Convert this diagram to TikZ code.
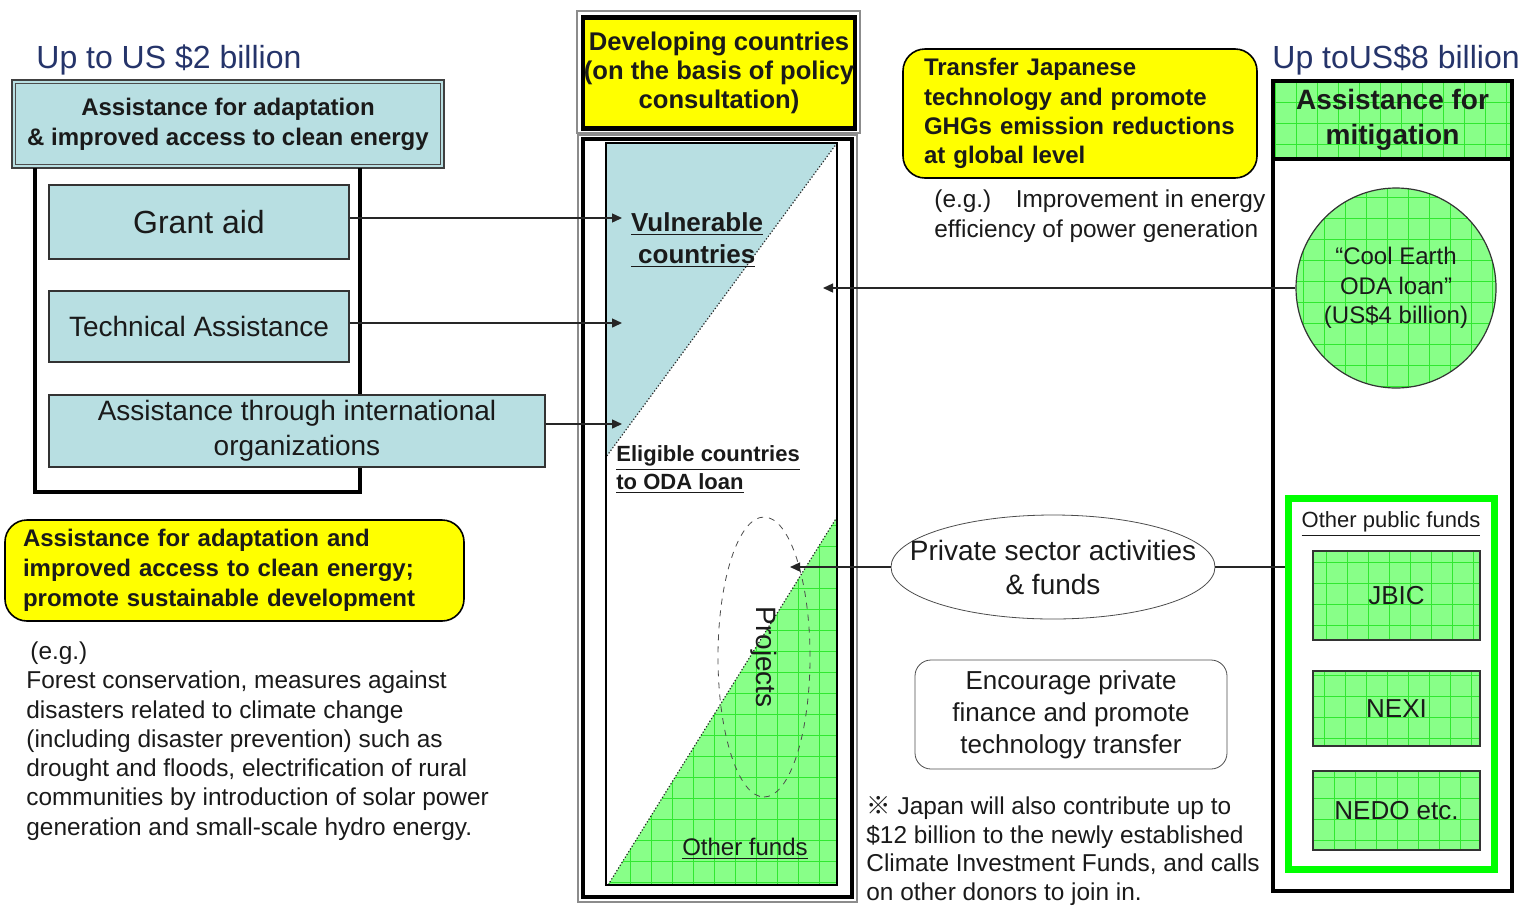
\documentclass[tikz,border=0pt]{standalone}
\usepackage{fontspec}
\setmainfont{Liberation Sans}
\newfontfamily\cjkfont{Noto Sans CJK JP}
\usetikzlibrary{arrows.meta,shapes.geometric}

\definecolor{aqua}{HTML}{B8DFE2}
\definecolor{leaf}{HTML}{88FF88}
\definecolor{leafline}{HTML}{30E830}
\definecolor{lime}{HTML}{00FF00}
\definecolor{sun}{HTML}{FFFF00}
\definecolor{ink}{HTML}{1A1A1A}
\definecolor{navy}{HTML}{25346A}
\newcommand{\fsz}[2]{\fontsize{#1}{#2}\selectfont}

\tikzset{
  every node/.style={inner sep=0pt, text=ink},
  leafgrid/.style={path picture={\draw[leafline,line width=0.3pt]
      (path picture bounding box.south west) grid[step=10.5pt] (path picture bounding box.north east);}},
  aquabox/.style={draw=black!80, fill=aqua, line width=0.7pt, align=center},
  leafbox/.style={draw=black!80, fill=leaf, leafgrid, line width=0.7pt, align=center},
  sunbox/.style={draw=black, fill=sun, line width=0.8pt, rounded corners=11pt, align=left},
  frame/.style={line width=1.6pt},
  slant/.style={black!85, line width=0.6pt, densely dotted},
  flow/.style={-{Triangle[length=5pt,width=4.5pt]}, black!85, line width=0.7pt},
  title/.style={anchor=west, text=navy, font=\fsz{16}{18}},
}

\begin{document}
\begin{tikzpicture}[x=0.5pt, y=-0.5pt]
  \useasboundingbox (0,0) rectangle (1524,906);
  % left column: adaptation
  \node[title] (ltitle) at (36,60) {Up to US \$2 billion};
  \node[aquabox, draw=black!75, line width=1.3pt, minimum width=216pt, minimum height=44pt, font=\bfseries\fsz{12}{15}] (lhead) at (228,124) {Assistance for adaptation\\\& improved access to clean energy};
  \draw[black!70, line width=0.4pt] ([shift={(2.5pt,-2.5pt)}]lhead.north west) rectangle ([shift={(-2.5pt,2.5pt)}]lhead.south east);
  \draw[frame] (35,168) -- (35,492) -- (360,492) -- (360,168);
  \node[aquabox, minimum width=150pt, minimum height=37pt, font=\fsz{16}{19}] (grant) at (199,222) {Grant aid};
  \node[aquabox, minimum width=150pt, minimum height=35.5pt, font=\fsz{14}{17}] (tech) at (199,326.5) {Technical Assistance};
  \node[aquabox, minimum width=248pt, minimum height=36pt, font=\fsz{14}{17.5}] (intl) at (297,431) {Assistance through international\\organizations};
  \node[sunbox, text width=211.5pt, inner xsep=9pt, minimum height=50.5pt, font=\bfseries\fsz{12}{15}] (adapt) at (234.5,570.5) {Assistance for adaptation and\\improved access to clean energy;\\promote sustainable development};
  \node[anchor=west, align=left, font=\fsz{12.2}{14.65}] (examples) at (26,741) {\hspace{2pt}(e.g.)\\Forest conservation, measures against\\disasters related to climate change\\(including disaster prevention) such as\\drought and floods, electrification of rural\\communities by introduction of solar power\\generation and small-scale hydro energy.};

  % middle column: developing countries
  \draw[black!45, line width=1pt] (577,11) rectangle (860,133);
  \node[draw=black, line width=2.2pt, fill=sun, minimum width=136pt, minimum height=55.5pt, align=center, font=\bfseries\fsz{12.8}{14.5}] (dev) at (719,73) {Developing countries\\(on the basis of policy\\consultation)};
  \draw[black!45, line width=1pt] (578,135) rectangle (857,902);
  \draw[line width=2.2pt] (583,139) rectangle (852,897);
  \fill[aqua] (606,143) -- (837,143) -- (606,457) -- cycle;
  \path[fill=leaf, leafgrid] (837,517) -- (837,885) -- (608,885) -- cycle;
  \draw[slant] (837,143) -- (606,457);
  \draw[slant] (837,517) -- (608,885);
  \draw[line width=1pt] (606,143) rectangle (837,885);
  \node[align=left, font=\bfseries\fsz{13}{16}] (vuln) at (697,240) {\underline{Vulnerable}\\\underline{\ countries}};
  \node[anchor=west, align=left, font=\bfseries\fsz{11}{14}] (elig) at (616,470) {\underline{Eligible countries}\\\underline{to ODA loan}};
  \node[ellipse, draw=black!70, dashed, rotate=-90, minimum width=140pt, minimum height=46pt, font=\fsz{14}{16}] (proj) at (764,657) {Projects};
  \node[font=\fsz{12}{14}] (other) at (745,849) {\underline{Other funds}};

  % between: targets and private sector
  \node[sunbox, text width=156pt, inner xsep=10.5pt, minimum height=64.5pt, font=\bfseries\fsz{12}{14.6}] (transfer) at (1080,113.5) {Transfer Japanese\\technology and promote\\GHGs emission reductions\\at global level};
  \node[anchor=west, align=left, font=\fsz{12.2}{15}] (tnote) at (934,216) {(e.g.)\quad Improvement in energy\\efficiency of power generation};
  \node[ellipse, draw=black!70, minimum width=162pt, minimum height=52pt] (priv) at (1053,567) {};
  \node[align=center, font=\fsz{14}{17}] (privtext) at (priv) {Private sector activities\\\& funds};
  \node[draw=black!70, rounded corners=8pt, minimum width=156pt, minimum height=54.5pt, align=center, font=\fsz{13}{16}] (encourage) at (1071,714.5) {Encourage private\\finance and promote\\technology transfer};
  \node[anchor=west, align=left, font=\fsz{12.2}{14.3}] (cifnote) at (866,851) {{\cjkfont ※} Japan will also contribute up to\\\$12 billion to the newly established\\Climate Investment Funds, and calls\\on other donors to join in.};

  % right column: mitigation
  \node[title] (rtitle) at (1272,60) {Up toUS\$8 billion};
  \node[leafbox, draw=black, line width=1.6pt, minimum width=119.5pt, minimum height=39pt, font=\bfseries\fsz{14}{17.5}] (mhead) at (1392.5,120) {Assistance for\\mitigation};
  \draw[frame] (1273,159) -- (1273,891) -- (1512,891) -- (1512,159);
  \node[circle, fill=leaf, leafgrid, draw=black!80, line width=0.6pt, minimum size=100pt, align=center, font=\fsz{12}{14.7}] (cool) at (1396,288) {“Cool Earth\\ODA loan”\\(US\$4 billion)};
  \node[draw=lime, line width=3.5pt, minimum width=103pt, minimum height=185.5pt] (pubfunds) at (1391.5,684) {};
  \node[font=\fsz{11}{13}] (publabel) at (1391,524) {\underline{Other public funds}};
  \node[leafbox, minimum width=83.5pt, minimum height=44.5pt, font=\fsz{13}{15}] (jbic) at (1396.5,595.5) {JBIC};
  \node[leafbox, minimum width=83.5pt, minimum height=37.5pt, font=\fsz{13}{15}] (nexi) at (1396.5,708.5) {NEXI};
  \node[leafbox, minimum width=83.5pt, minimum height=39.5pt, font=\fsz{13}{15}] (nedo) at (1396.5,810.5) {NEDO etc.};

  % connectors
  \coordinate (tipa) at (622,218);
  \coordinate (tipb) at (622,323);
  \coordinate (tipc) at (622,424);
  \coordinate (tipd) at (823,0);
  \coordinate (tipe) at (790,0);
  \draw[flow] (grant.east |- tipa) -- (tipa);
  \draw[flow] (tech.east |- tipb) -- (tipb);
  \draw[flow] (intl.east |- tipc) -- (tipc);
  \draw[flow] (cool.west) -- (cool.west -| tipd);
  \draw[flow] (priv.west) -- (priv.west -| tipe);
  \draw[black!85, line width=0.7pt] (priv.east) -- (priv.east -| pubfunds.west);
\end{tikzpicture}
\end{document}
